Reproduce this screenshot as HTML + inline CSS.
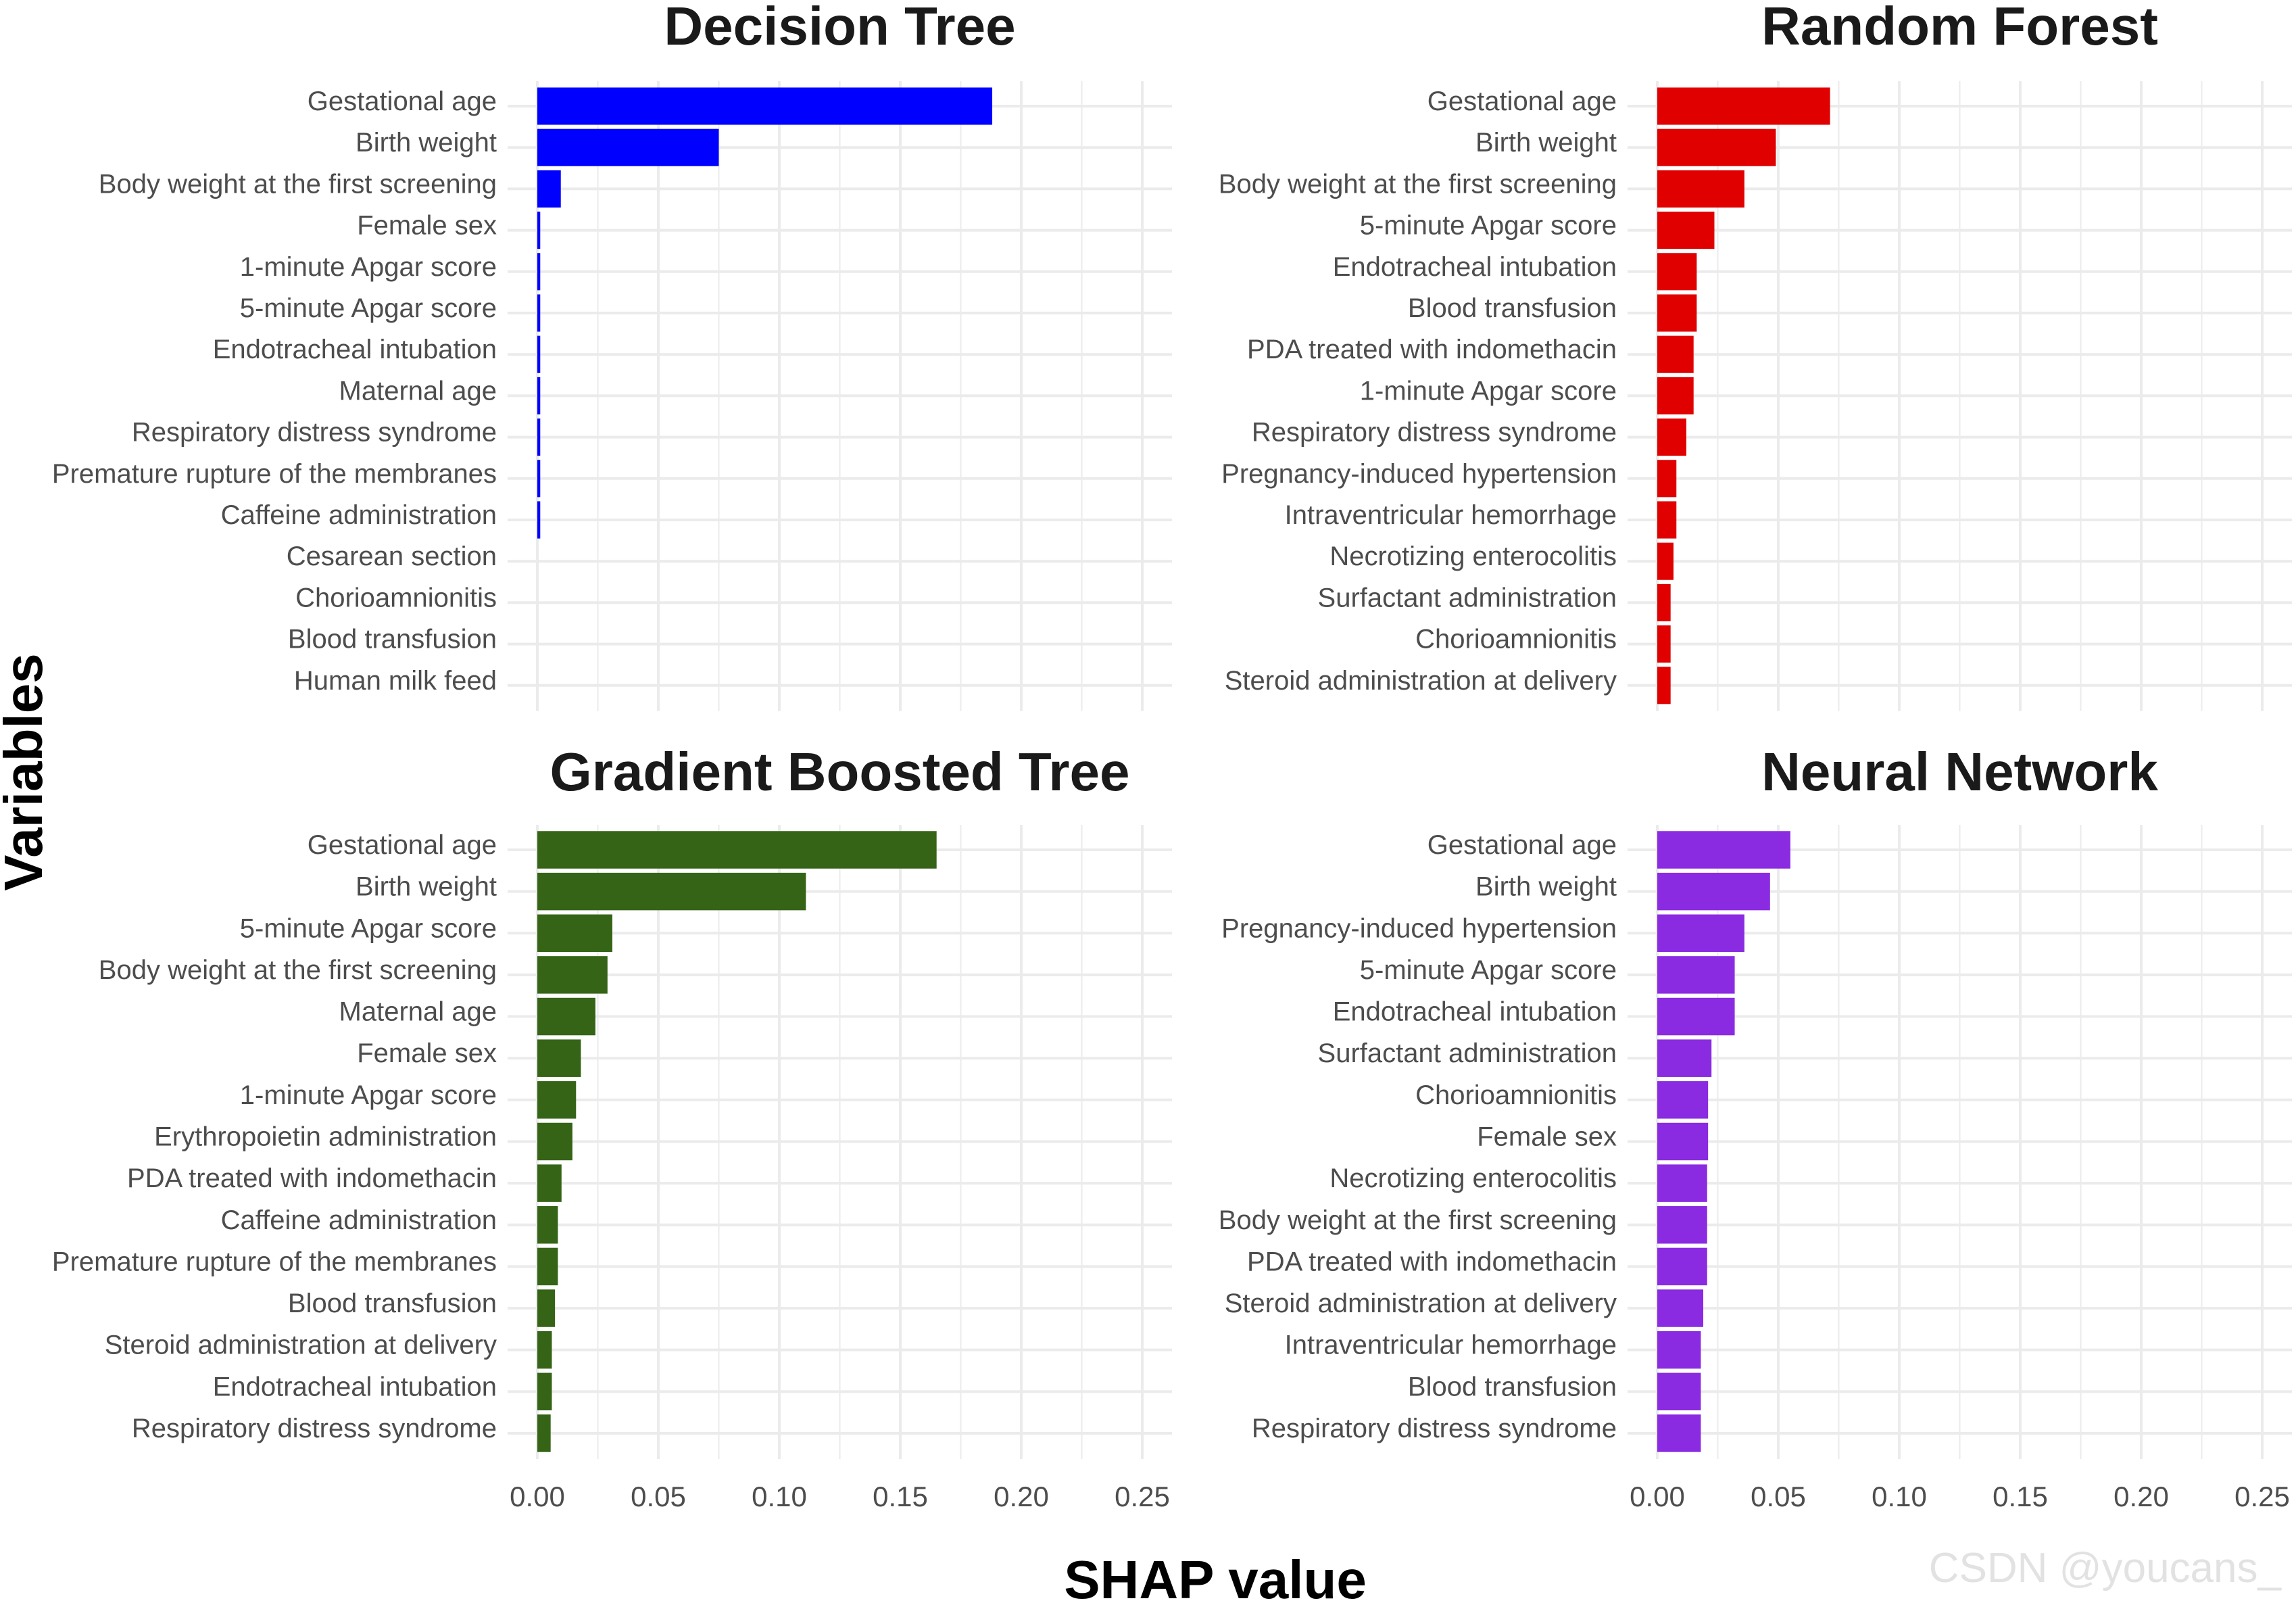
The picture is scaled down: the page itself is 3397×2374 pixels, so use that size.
<!DOCTYPE html>
<html><head><meta charset="utf-8"><style>
html,body{margin:0;padding:0;background:#fff;}
svg{display:block;font-family:"Liberation Sans",Arial,sans-serif;}
</style></head><body>
<svg id="chart" width="3397" height="2374" viewBox="0 0 3397 2374" xmlns="http://www.w3.org/2000/svg">
<text x="0" y="0" transform="translate(62,1142) rotate(-90)" text-anchor="middle" font-size="80" font-weight="bold" fill="#000">Variables</text>
<text x="1798" y="2364" text-anchor="middle" font-size="80" font-weight="bold" fill="#000">SHAP value</text>
<text x="3375" y="2340" text-anchor="end" font-size="62" fill="#e2e2e2">CSDN @youcans_</text>
</svg>
<script>
const ticks = [0, 0.05, 0.10, 0.15, 0.20, 0.25];
const tickLabels = ["0.00","0.05","0.10","0.15","0.20","0.25"];
const dtNames = ["Gestational age","Birth weight","Body weight at the first screening","Female sex","1-minute Apgar score","5-minute Apgar score","Endotracheal intubation","Maternal age","Respiratory distress syndrome","Premature rupture of the membranes","Caffeine administration","Cesarean section","Chorioamnionitis","Blood transfusion","Human milk feed"];
const dtValues = [0.188,0.075,0.0097,0.0012,0.0012,0.0012,0.0012,0.0012,0.0012,0.0012,0.0012,0,0,0,0];
const rfNames = ["Gestational age","Birth weight","Body weight at the first screening","5-minute Apgar score","Endotracheal intubation","Blood transfusion","PDA treated with indomethacin","1-minute Apgar score","Respiratory distress syndrome","Pregnancy-induced hypertension","Intraventricular hemorrhage","Necrotizing enterocolitis","Surfactant administration","Chorioamnionitis","Steroid administration at delivery"];
const rfValues = [0.0714,0.049,0.036,0.0236,0.0163,0.0163,0.015,0.015,0.012,0.0079,0.0079,0.0067,0.0055,0.0055,0.0055];
const gbNames = ["Gestational age","Birth weight","5-minute Apgar score","Body weight at the first screening","Maternal age","Female sex","1-minute Apgar score","Erythropoietin administration","PDA treated with indomethacin","Caffeine administration","Premature rupture of the membranes","Blood transfusion","Steroid administration at delivery","Endotracheal intubation","Respiratory distress syndrome"];
const gbValues = [0.165,0.111,0.031,0.029,0.024,0.018,0.016,0.0145,0.010,0.0085,0.0085,0.0073,0.006,0.006,0.0055];
const nnNames = ["Gestational age","Birth weight","Pregnancy-induced hypertension","5-minute Apgar score","Endotracheal intubation","Surfactant administration","Chorioamnionitis","Female sex","Necrotizing enterocolitis","Body weight at the first screening","PDA treated with indomethacin","Steroid administration at delivery","Intraventricular hemorrhage","Blood transfusion","Respiratory distress syndrome"];
const nnValues = [0.055,0.0466,0.036,0.032,0.032,0.0224,0.021,0.021,0.0206,0.0206,0.0206,0.019,0.018,0.018,0.018];

const NS="http://www.w3.org/2000/svg";
const svg=document.getElementById('chart');
function mk(tag,attrs,parent){const e=document.createElementNS(NS,tag);for(const k in attrs)e.setAttribute(k,attrs[k]);(parent||svg).appendChild(e);return e;}

function panel(key,title,names,values,color,x0,y0,rowStep,showTicks,titleY){
  const g=mk('g',{});
  
  
  const unit=3580;
  const xs=v=>x0+v*unit;
  const ys=i=>y0+i*rowStep;
  const left=x0-44, right=xs(0.25)+44;
  const top=ys(0)-37, bottom=ys(names.length-1)+38;
  for(let k=0;k<5;k++){
    const v=0.025+k*0.05;
    const l=mk('line',{x1:xs(v),x2:xs(v),y1:top,y2:bottom,stroke:'#ebebeb','stroke-width':2},g);
    
    
  }
  ticks.forEach((t,i)=>{
    const l=mk('line',{x1:xs(t),x2:xs(t),y1:top,y2:bottom,stroke:'#ebebeb','stroke-width':4},g);
    
    
    if(showTicks){
      const tx=mk('text',{x:xs(t),y:2228,'text-anchor':'middle','font-size':42,fill:'#4d4d4d'},g);
      tx.textContent=tickLabels[i];
      
      
    }
  });
  names.forEach((n,i)=>{
    const l=mk('line',{x1:left,x2:right,y1:ys(i),y2:ys(i),stroke:'#ebebeb','stroke-width':4},g);
    
    
  });
  names.forEach((n,i)=>{
    const h=rowStep*0.9;
    const w=Math.max(0,xs(values[i])-xs(0));
    if(w>0){
      const r=mk('rect',{x:xs(0),y:ys(i)-h/2,width:w,height:h,fill:color},g);
      
      
    }
    const t=mk('text',{x:x0-60,y:ys(i)+6,'text-anchor':'end','font-size':40,fill:'#4d4d4d'},g);
    t.textContent=n;
    
    
  });
  const tt=mk('text',{x:(xs(0)+xs(0.25))/2,y:titleY,'text-anchor':'middle','font-size':80,'font-weight':'bold',fill:'#1a1a1a'},g);
  tt.textContent=title;
  
  
}
panel('decision-tree','Decision Tree',dtNames,dtValues,'#0000ff',795,157,61.2,false,66);
panel('random-forest','Random Forest',rfNames,rfValues,'#e00000',2452,157,61.2,false,66);
panel('gradient-boosted-tree','Gradient Boosted Tree',gbNames,gbValues,'#356416',795,1257,61.64,true,1169);
panel('neural-network','Neural Network',nnNames,nnValues,'#8a2be2',2452,1257,61.64,true,1169);
</script>
</body></html>
